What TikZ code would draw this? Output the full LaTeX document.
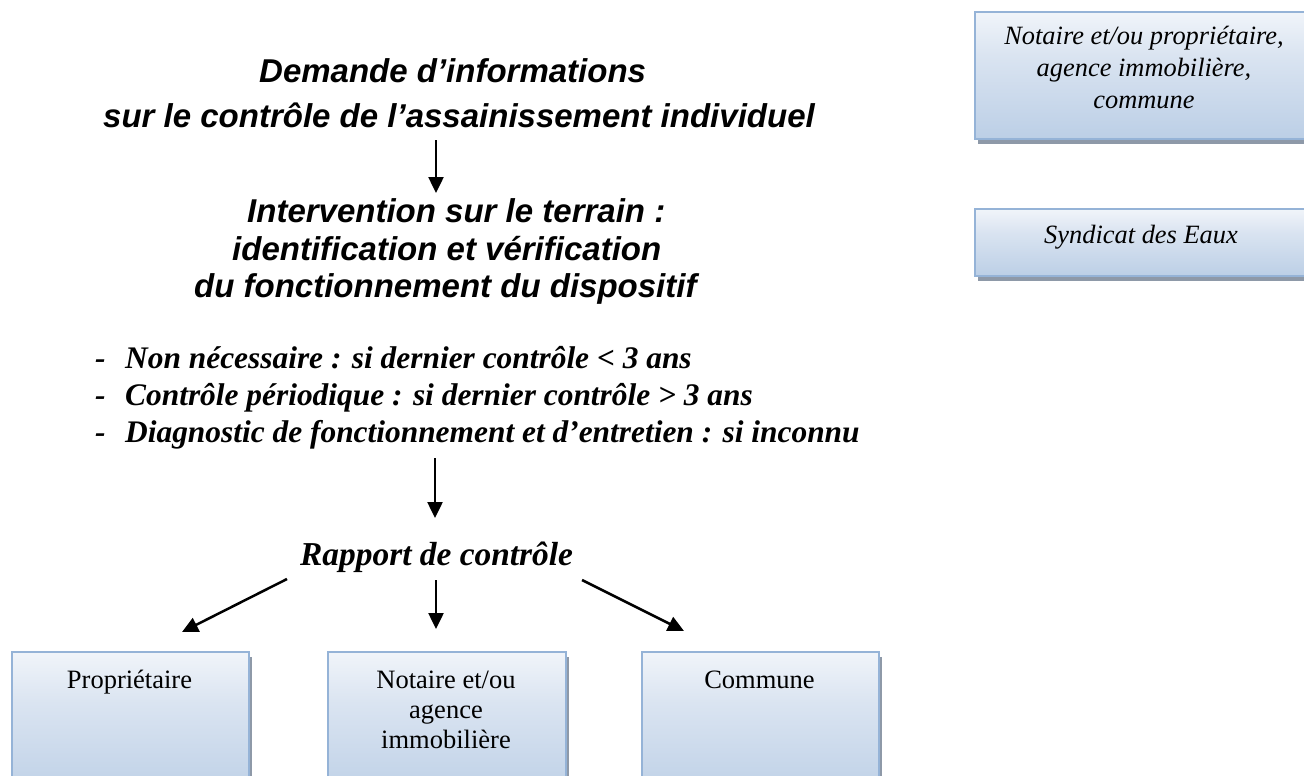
\documentclass[tikz,border=0pt]{standalone}
\usepackage{fontspec}
\setmainfont{Liberation Serif}
\newfontfamily\arialf{Liberation Sans}
\usetikzlibrary{arrows.meta,shadows}
\definecolor{boxblue}{RGB}{185,205,229}
\definecolor{boxmid}{RGB}{218,228,241}
\definecolor{boxborder}{RGB}{149,179,215}
\definecolor{shadowgray}{RGB}{142,153,168}
\pgfdeclareverticalshading{boxshade}{100bp}{color(0bp)=(boxblue); color(22bp)=(boxblue); color(58bp)=(boxmid); color(86bp)=(white); color(100bp)=(white)}
\begin{document}
\begin{tikzpicture}[x=1pt,y=-1pt,
  sansline/.style={inner sep=0pt, anchor=base west, font=\arialf\bfseries\itshape\fontsize{33}{40}\selectfont},
  bulletline/.style={inner sep=0pt, anchor=base west, font=\bfseries\itshape\fontsize{31.4}{37}\selectfont},
  rapportline/.style={inner sep=0pt, anchor=base west, font=\bfseries\itshape\fontsize{33.4}{40}\selectfont},
  boxtext/.style={inner sep=0pt, anchor=base, font=\fontsize{26.5}{30}\selectfont},
  sidetext/.style={inner sep=0pt, anchor=base, font=\itshape\fontsize{26.4}{32}\selectfont},
  arr/.style={line width=2.5pt, -{Triangle[width=15pt,length=16pt]}},
  shbox/.style={shading=boxshade, draw=boxborder, line width=2pt, inner sep=0pt,
     anchor=north west, drop shadow={shadow xshift=3pt, shadow yshift=-5pt, fill=shadowgray, opacity=1}},
]
\useasboundingbox (0,0) rectangle (1304,776);
\clip (0,0) rectangle (1304,776);
\fill[white] (0,0) rectangle (1304,776);

% side boxes
\node[shbox, minimum width=336pt, minimum height=127pt] (rb1) at (974,11) {};
\node[sidetext] (rb1t) at (1144,45) {\begin{tabular}[t]{@{}c@{}}Notaire et/ou propriétaire,\\ agence immobilière,\\ commune\end{tabular}};
\node[shbox, minimum width=336pt, minimum height=67pt] (rb2) at (974,208) {};
\node[sidetext] (rb2t) at (1141,243) {Syndicat des Eaux};

% main flow texts
\node[sansline] (dem1) at (259,83) {Demande d’informations};
\node[sansline] (dem2) at (103,127) {sur le contrôle de l’assainissement individuel};
\node[sansline] (int1) at (247,222) {Intervention sur le terrain :};
\node[sansline] (int2) at (232,260) {identification et vérification};
\node[sansline] (int3) at (194,297) {du fonctionnement du dispositif};

\node[bulletline] (c1) at (95,368) {\makebox[30pt][l]{-}Non nécessaire : si dernier contrôle < 3 ans};
\node[bulletline] (c2) at (95,405) {\makebox[30pt][l]{-}Contrôle périodique : si dernier contrôle > 3 ans};
\node[bulletline] (c3) at (95,442) {\makebox[30pt][l]{-}Diagnostic de fonctionnement et d’entretien : si inconnu};

\node[rapportline] (rap) at (300,565) {Rapport de contrôle};

% bottom boxes
\node[shbox, minimum width=237pt, minimum height=150pt] (bprop) at (11,651) {};
\node[boxtext] (bpropt) at (129.5,688) {Propriétaire};
\node[shbox, minimum width=238pt, minimum height=150pt] (bnot) at (327,651) {};
\node[boxtext] (bnott) at (446,688) {\begin{tabular}[t]{@{}c@{}}Notaire et/ou\\ agence\\ immobilière\end{tabular}};
\node[shbox, minimum width=237pt, minimum height=150pt] (bcom) at (641,651) {};
\node[boxtext] (bcomt) at (759.5,688) {Commune};

% arrows
\coordinate (a1s) at (436,140);
\coordinate (a1e) at (436,193);
\coordinate (a2s) at (435,458);
\coordinate (a2e) at (435,518);
\coordinate (a3s) at (287,579);
\coordinate (a3e) at (182,632);
\coordinate (a4s) at (436,580);
\coordinate (a4e) at (436,629);
\coordinate (a5s) at (582,580);
\coordinate (a5e) at (684,631);
\draw[arr] (a1s) -- (a1e);
\draw[arr] (a2s) -- (a2e);
\draw[arr] (a3s) -- (a3e);
\draw[arr] (a4s) -- (a4e);
\draw[arr] (a5s) -- (a5e);
\end{tikzpicture}
\end{document}
